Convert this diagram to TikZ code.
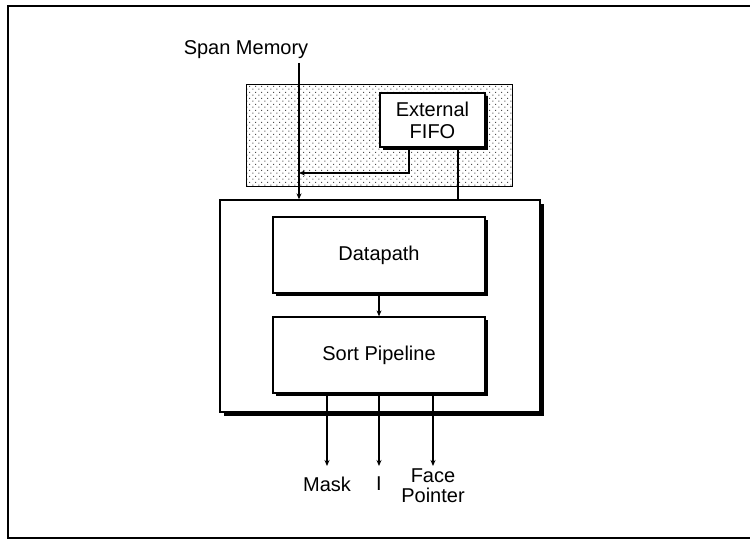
\documentclass[tikz,border=0pt]{standalone}
\usepackage{fontspec}
\setmainfont{Liberation Sans}
\usetikzlibrary{arrows.meta,patterns,shadows}

% staggered stipple for the off-chip area
\pgfdeclarepatternformonly{stipple}{\pgfpointorigin}{\pgfpoint{6pt}{6pt}}{\pgfpoint{6pt}{6pt}}{%
  \pgfpathrectangle{\pgfpoint{0.5pt}{0.5pt}}{\pgfpoint{1.2pt}{1.2pt}}%
  \pgfpathrectangle{\pgfpoint{3.5pt}{3.5pt}}{\pgfpoint{1.2pt}{1.2pt}}%
  \pgfusepath{fill}}

\tikzset{
  lbl/.style={font=\fontsize{20}{22}\selectfont, inner sep=0pt, align=center},
  blk/.style={draw, line width=1.3pt, fill=white, inner sep=0pt, align=center,
    font=\fontsize{20}{22}\selectfont,
    drop shadow={shadow xshift=3pt, shadow yshift=-3pt, fill=black, opacity=1}},
  chip/.style={draw, line width=1.3pt, fill=white, inner sep=0pt,
    drop shadow={shadow xshift=4pt, shadow yshift=-4pt, fill=black, opacity=1}},
  wire/.style={line width=1.2pt},
  sig/.style={line width=1.2pt, -{Stealth[length=6pt,width=5pt]}},
}

\begin{document}
\begin{tikzpicture}[x=1pt, y=-1pt]
  \useasboundingbox (0,0) rectangle (750,540);

  % open frame (right side runs off the page)
  \draw[line width=1.3pt] (750,6) -- (8,6) -- (8,538) -- (750,538);

  % stippled off-chip region
  \node[draw, line width=1pt, pattern=stipple, pattern color=black!70,
        minimum width=266pt, minimum height=102pt, inner sep=0pt] (offchip) at (379,136) {};

  % external FIFO
  \node[blk, minimum width=105pt, minimum height=54pt] (fifo) at (432.5,120) {External\\FIFO};

  % chip outline and internal blocks
  \node[chip, minimum width=320pt, minimum height=212pt] (chip) at (380,306) {};
  \node[blk, minimum width=212pt, minimum height=76pt] (dp) at (379,255) {Datapath};
  \node[blk, minimum width=212pt, minimum height=76pt] (sp) at (379,355) {Sort Pipeline};

  % inputs
  \node[lbl] (span) at (246,50) {Span Memory};
  \coordinate (spantop) at (299,63);
  \coordinate (join) at (299,173);
  \coordinate (fifoout) at (409,0);
  \coordinate (fifoin) at (458,0);

  \draw[sig] (spantop) -- (spantop |- chip.north);
  \draw[sig] (fifo.south -| fifoout) |- (join);
  \draw[wire] (fifo.south -| fifoin) -- (fifoin |- chip.north);

  % datapath to sort pipeline
  \draw[sig] (dp.south) -- (sp.north);

  % outputs
  \node[lbl] (mask) at (327,484) {Mask};
  \node[lbl] (ival) at (379,484) {I};
  \node[lbl, font=\fontsize{20}{20}\selectfont] (face) at (433,486) {Face\\Pointer};
  \coordinate (tipm) at (327,466);
  \coordinate (tipi) at (379,466);
  \coordinate (tipf) at (433,466);

  \draw[sig] (sp.south -| tipm) -- (tipm);
  \draw[sig] (sp.south -| tipi) -- (tipi);
  \draw[sig] (sp.south -| tipf) -- (tipf);
\end{tikzpicture}
\end{document}
